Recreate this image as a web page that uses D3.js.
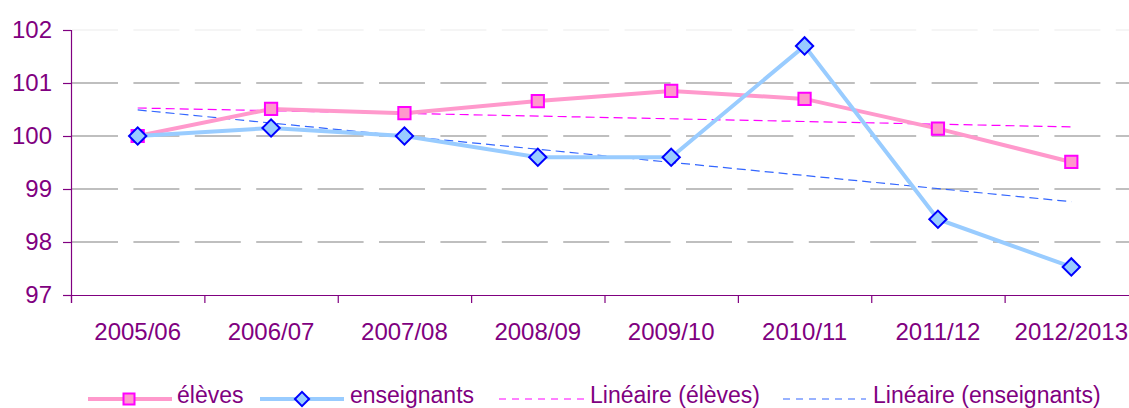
<!DOCTYPE html>
<html>
<head>
<meta charset="utf-8">
<title>élèves / enseignants</title>
<script src="https://d3js.org/d3.v7.min.js"></script>
<style>
    body { margin: 0; background: #ffffff; }
    text { font-family: "Liberation Sans", Arial, sans-serif; fill: #800080; }
</style>
</head>
<body>
<div id="chart"></div>
<script>
    // data
    var years = ["2005/06", "2006/07", "2007/08", "2008/09", "2009/10", "2010/11", "2011/12", "2012/2013"];
    var eleves = [100, 100.51, 100.43, 100.66, 100.85, 100.70, 100.14, 99.51];
    var enseignants = [100, 100.15, 100, 99.60, 99.60, 101.70, 98.43, 97.53];
    var yTicks = [97, 98, 99, 100, 101, 102];

    var svg_dx = 1129, svg_dy = 408;
    var plot = {left: 71, right: 1138, top: 30, bottom: 295};

    var svg = d3.select("#chart").append("svg")
        .attr("width", svg_dx)
        .attr("height", svg_dy);

    var x = d3.scaleBand().domain(years).range([plot.left, plot.right]);
    var y = d3.scaleLinear().domain([97, 102]).range([plot.bottom, plot.top]);
    var cx = d => x(d) + x.bandwidth() / 2;

    // least squares trend, like excel's "Linéaire"
    function trend(vals) {
        var n = vals.length, mx = (n + 1) / 2, my = d3.mean(vals);
        var sxy = d3.sum(vals, (v, i) => (i + 1 - mx) * (v - my));
        var sxx = d3.sum(vals, (v, i) => (i + 1 - mx) * (i + 1 - mx));
        var b = sxy / sxx;
        return [my + b * (1 - mx), my + b * (n - mx)];
    }

    // grid
    svg.append("g").selectAll("line")
        .data(yTicks.filter(t => t > 97))
        .enter().append("line")
        .attr("x1", plot.left + 1).attr("x2", svg_dx)
        .attr("y1", d => y(d)).attr("y2", d => y(d))
        .attr("stroke", d => d == 102 ? "#ececec" : "#808080")
        .attr("stroke-width", 1.2)
        .attr("stroke-dasharray", "46,15.4");

    // axes
    var axis_y = d3.axisLeft(y).tickValues(yTicks).tickSize(8).tickPadding(11).tickFormat(d3.format("d"));
    var gy = svg.append("g").attr("transform", "translate(" + plot.left + ",0)").call(axis_y);
    gy.selectAll("text").style("font-size", "24px").attr("fill", "#800080");

    var axis_x = d3.axisBottom(d3.scaleLinear().domain([0, years.length]).range([plot.left, plot.right]))
        .tickValues(d3.range(0, years.length + 1)).tickSize(8).tickFormat("");
    var gx = svg.append("g").attr("transform", "translate(0," + plot.bottom + ")").call(axis_x);

    [gx, gy].forEach(g => {
        g.select(".domain").attr("stroke", "#800080").attr("stroke-width", 1.2);
        g.selectAll(".tick line").attr("stroke", "#800080").attr("stroke-width", 1.2);
    });

    svg.append("g").selectAll("text")
        .data(years).enter().append("text")
        .attr("x", d => cx(d)).attr("y", 340)
        .attr("text-anchor", "middle")
        .style("font-size", "24px")
        .text(d => d);

    // trend lines
    var te = trend(eleves), tn = trend(enseignants);
    svg.append("line")
        .attr("x1", cx(years[0])).attr("x2", cx(years[years.length - 1]))
        .attr("y1", y(te[0])).attr("y2", y(te[1]))
        .attr("stroke", "#ff00ff").attr("stroke-width", 1.2).attr("stroke-dasharray", "9,5");
    svg.append("line")
        .attr("x1", cx(years[0])).attr("x2", cx(years[years.length - 1]))
        .attr("y1", y(tn[0])).attr("y2", y(tn[1]))
        .attr("stroke", "#3366ff").attr("stroke-width", 1.2).attr("stroke-dasharray", "9,5");

    var line = d3.line().x((d, i) => cx(years[i])).y(d => y(d));

    svg.append("path").datum(eleves).attr("d", line)
        .attr("fill", "none").attr("stroke", "#ff99cc").attr("stroke-width", 4);
    svg.append("path").datum(enseignants).attr("d", line)
        .attr("fill", "none").attr("stroke", "#99ccff").attr("stroke-width", 4);

    var sq = d3.symbol().type(d3.symbolSquare).size(150);

    svg.append("g").selectAll("path")
        .data(eleves).enter().append("path")
        .attr("d", sq)
        .attr("transform", (d, i) => "translate(" + cx(years[i]) + "," + y(d) + ")")
        .attr("fill", "#ff99cc").attr("stroke", "#ff00ff").attr("stroke-width", 2);

    svg.append("g").selectAll("path")
        .data(enseignants).enter().append("path")
        .attr("d", sq)
        .attr("transform", (d, i) => "translate(" + cx(years[i]) + "," + y(d) + ") rotate(45)")
        .attr("fill", "#99ccff").attr("stroke", "#0000ff").attr("stroke-width", 2);

    // legend
    var ly = 399;
    var lg = svg.append("g");
    lg.append("line").attr("x1", 88).attr("x2", 172).attr("y1", ly).attr("y2", ly)
        .attr("stroke", "#ff99cc").attr("stroke-width", 4);
    lg.append("path").attr("d", d3.symbol().type(d3.symbolSquare).size(121))
        .attr("transform", "translate(129," + ly + ")")
        .attr("fill", "#ff99cc").attr("stroke", "#ff00ff").attr("stroke-width", 2);
    lg.append("line").attr("x1", 260).attr("x2", 344).attr("y1", ly).attr("y2", ly)
        .attr("stroke", "#99ccff").attr("stroke-width", 4);
    lg.append("path").attr("d", d3.symbol().type(d3.symbolSquare).size(100))
        .attr("transform", "translate(302," + ly + ") rotate(45)")
        .attr("fill", "#99ccff").attr("stroke", "#0000ff").attr("stroke-width", 2);
    lg.append("line").attr("x1", 499).attr("x2", 586).attr("y1", ly).attr("y2", ly)
        .attr("stroke", "#ff00ff").attr("stroke-width", 1.2).attr("stroke-dasharray", "7,6");
    lg.append("line").attr("x1", 783).attr("x2", 866).attr("y1", ly).attr("y2", ly)
        .attr("stroke", "#3366ff").attr("stroke-width", 1.2).attr("stroke-dasharray", "7,6");

    var labels = [["élèves", 177], ["enseignants", 350], ["Linéaire (élèves)", 590], ["Linéaire (enseignants)", 873]];
    lg.selectAll("text").data(labels).enter().append("text")
        .attr("x", d => d[1]).attr("y", 403)
        .style("font-size", "23px")
        .text(d => d[0]);
</script>
</body>
</html>
